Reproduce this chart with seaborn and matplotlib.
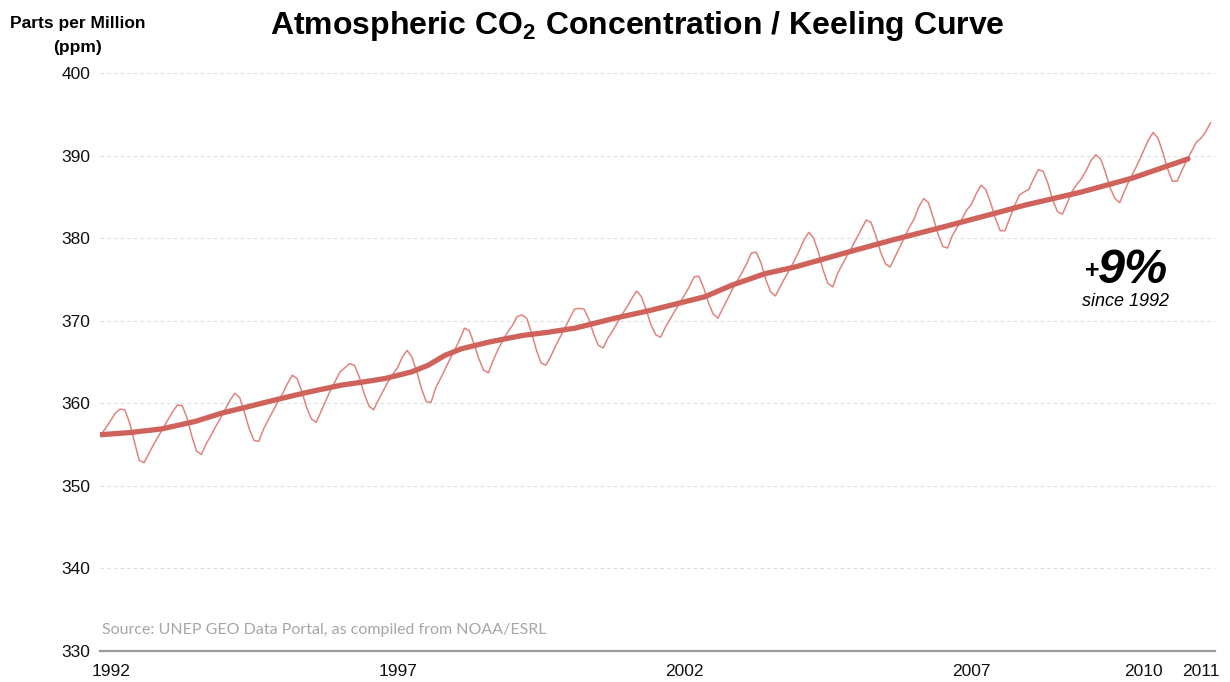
import matplotlib
matplotlib.use("Agg")
import matplotlib.pyplot as plt
import seaborn as sns
import numpy as np
import pandas as pd

# ---- monthly CO2 readings (ppm), Jan..Dec of each year ----
co2_1992 = [356.2, 357.0, 357.9, 358.8, 359.3, 359.2, 357.6, 355.3, 353.1, 352.8, 353.9, 355.0]
co2_1993 = [356.0, 357.0, 358.0, 359.0, 359.8, 359.7, 358.2, 356.0, 354.2, 353.8, 355.1, 356.1]
co2_1994 = [357.2, 358.2, 359.3, 360.4, 361.2, 360.7, 358.9, 356.9, 355.5, 355.4, 356.9, 358.0]
co2_1995 = [359.1, 360.2, 361.2, 362.4, 363.4, 363.0, 361.4, 359.5, 358.1, 357.7, 359.0, 360.3]
co2_1996 = [361.6, 362.7, 363.8, 364.3, 364.8, 364.6, 363.2, 361.2, 359.7, 359.2, 360.4, 361.5]
co2_1997 = [362.6, 363.5, 364.3, 365.6, 366.4, 365.6, 363.9, 361.8, 360.2, 360.1, 361.9, 363.0]
co2_1998 = [364.2, 365.4, 366.5, 367.7, 369.1, 368.8, 367.2, 365.4, 364.0, 363.7, 365.2, 366.5]
co2_1999 = [367.6, 368.6, 369.4, 370.5, 370.7, 370.3, 368.6, 366.5, 364.9, 364.6, 365.6, 366.9]
co2_2000 = [368.0, 369.1, 370.3, 371.4, 371.5, 371.4, 370.2, 368.4, 367.0, 366.7, 367.9, 368.8]
co2_2001 = [369.8, 370.8, 371.7, 372.7, 373.6, 372.9, 371.3, 369.5, 368.3, 368.0, 369.2, 370.2]
co2_2002 = [371.2, 372.1, 373.1, 374.1, 375.3, 375.4, 374.0, 372.2, 370.8, 370.3, 371.5, 372.6]
co2_2003 = [373.8, 374.8, 375.8, 376.9, 378.2, 378.3, 377.0, 375.0, 373.5, 373.0, 374.1, 375.2]
co2_2004 = [376.2, 377.3, 378.5, 379.8, 380.7, 380.0, 378.3, 376.1, 374.5, 374.1, 375.7, 376.8]
co2_2005 = [377.9, 378.9, 380.0, 381.1, 382.2, 381.9, 380.3, 378.3, 376.9, 376.5, 377.7, 378.9]
co2_2006 = [380.1, 381.3, 382.3, 383.8, 384.8, 384.3, 382.5, 380.5, 379.0, 378.8, 380.3, 381.3]
co2_2007 = [382.3, 383.4, 384.1, 385.4, 386.4, 385.9, 384.3, 382.4, 380.9, 380.9, 382.4, 383.9]
co2_2008 = [385.2, 385.6, 385.9, 387.2, 388.3, 388.1, 386.6, 384.6, 383.2, 382.9, 384.2, 385.6]
co2_2009 = [386.5, 387.2, 388.2, 389.4, 390.1, 389.6, 388.0, 386.1, 384.8, 384.3, 385.7, 387.0]
co2_2010 = [388.1, 389.3, 390.6, 391.9, 392.8, 392.1, 390.4, 388.4, 386.9, 386.9, 388.2, 389.4]
co2_2011 = [390.5, 391.6, 392.1, 392.9, 394.0]

# ---- trend (thick line) readings ----
trend_years = [1992.0, 1992.5, 1993.06, 1993.64, 1994.10, 1994.57, 1995.09, 1995.61,
               1996.19, 1996.54, 1996.95, 1997.41, 1997.70, 1997.99, 1998.28, 1998.75,
               1999.33, 1999.79, 2000.26, 2000.95, 2001.54, 2002.0, 2002.52, 2002.99,
               2003.57, 2004.09, 2004.96, 2005.83, 2006.70, 2007.57, 2008.10, 2009.09,
               2009.96, 2010.94]
trend_ppm = [356.2, 356.45, 356.9, 357.8, 358.8, 359.6, 360.5, 361.35,
             362.2, 362.55, 363.0, 363.8, 364.6, 365.8, 366.6, 367.4,
             368.2, 368.6, 369.1, 370.3, 371.2, 372.0, 372.9, 374.3,
             375.7, 376.5, 378.2, 379.85, 381.4, 383.0, 384.0, 385.6,
             387.25, 389.6]

tick_years = [1992, 1997, 2002, 2007, 2010, 2011]
y_ticks = [330, 340, 350, 360, 370, 380, 390, 400]

monthly = np.concatenate([co2_1992, co2_1993, co2_1994, co2_1995, co2_1996, co2_1997,
                          co2_1998, co2_1999, co2_2000, co2_2001, co2_2002, co2_2003,
                          co2_2004, co2_2005, co2_2006, co2_2007, co2_2008, co2_2009,
                          co2_2010, co2_2011])
months = 1992 + np.arange(len(monthly)) / 12.0

df_m = pd.DataFrame({"t": months, "ppm": monthly})
df_t = pd.DataFrame({"t": trend_years, "ppm": trend_ppm})

sns.set_theme(style="white")
plt.rcParams["font.family"] = ["Liberation Sans", "DejaVu Sans"]
plt.rcParams["mathtext.fontset"] = "custom"
plt.rcParams["mathtext.rm"] = "Liberation Sans"
plt.rcParams["mathtext.bf"] = "Liberation Sans:bold"

W, H = 1230, 682
fig = plt.figure(figsize=(W / 100, H / 100), dpi=100)
ax = fig.add_axes([100 / W, 31 / H, 1115 / W, 578 / H])

sns.lineplot(data=df_m, x="t", y="ppm", ax=ax, color="#e0847d", lw=1.1,
             estimator=None, sort=False, zorder=3, solid_joinstyle="round")
sns.lineplot(data=df_t, x="t", y="ppm", ax=ax, color="#cf625a", lw=3.8,
             estimator=None, sort=False, solid_capstyle="round",
             solid_joinstyle="round", zorder=4)

ax.set_xlim(1991.983, 2011.41)
ax.set_ylim(330, 400)
ax.set_xlabel("")
ax.set_ylabel("")

for v in y_ticks[1:]:
    ax.axhline(v, color="#dedede", lw=0.8, ls=(0, (3, 3)), zorder=1)

ax.set_yticks(y_ticks)
ax.set_yticklabels([str(v) for v in y_ticks])
ax.set_xticks([y + 0.17 for y in tick_years])
ax.set_xticklabels([str(y) for y in tick_years])
ax.tick_params(axis="y", length=0, pad=7, labelsize=12.5, labelcolor="#111111")
ax.tick_params(axis="x", length=0, pad=9, labelsize=12.5, labelcolor="#111111")

for s in ["left", "top", "right"]:
    ax.spines[s].set_visible(False)
ax.spines["bottom"].set_color("#9a9a9a")
ax.spines["bottom"].set_linewidth(1.6)


def px(x, y):
    return x / W, 1 - y / H


fig.text(*px(637, 34), r"Atmospheric CO$_\mathbf{2}$ Concentration / Keeling Curve",
         ha="center", va="baseline", fontsize=23, fontweight="bold", color="#000000")
fig.text(*px(77.5, 28), "Parts per Million", ha="center", va="baseline",
         fontsize=12.5, fontweight="bold", color="#000000")
fig.text(*px(77.5, 52), "(ppm)", ha="center", va="baseline",
         fontsize=12.5, fontweight="bold", color="#000000")

fig.text(*px(1099, 278), "+", ha="right", va="baseline", fontsize=18,
         fontweight="bold", color="#000000")
fig.text(*px(1098, 283), "9%", ha="left", va="baseline", fontsize=35,
         fontweight="bold", fontstyle="italic", color="#000000")
fig.text(*px(1125, 306), "since 1992", ha="center", va="baseline", fontsize=13,
         fontstyle="italic", color="#000000")

fig.text(*px(102, 634), "Source: UNEP GEO Data Portal, as compiled from NOAA/ESRL",
         ha="left", va="baseline", fontsize=11.5, color="#a6a6a6",
         family=["Lato", "DejaVu Sans"])

fig.savefig("out.png", dpi=100)
